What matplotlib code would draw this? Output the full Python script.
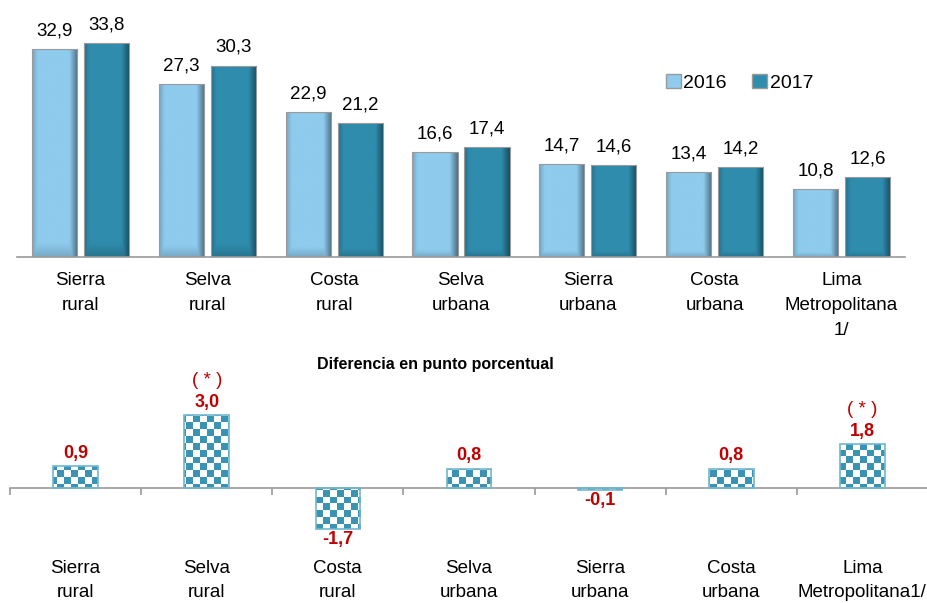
import numpy as np
import matplotlib
matplotlib.use("Agg")
import matplotlib.pyplot as plt
from matplotlib.patches import Patch
from matplotlib.colors import to_rgb

plt.rcParams['font.family'] = ['Liberation Sans Narrow', 'Liberation Sans', 'DejaVu Sans']

# datos
regiones = ["Sierra\nrural", "Selva\nrural", "Costa\nrural", "Selva\nurbana",
            "Sierra\nurbana", "Costa\nurbana", "Lima\nMetropolitana\n1/"]
regiones_dif = ["Sierra\nrural", "Selva\nrural", "Costa\nrural", "Selva\nurbana",
                "Sierra\nurbana", "Costa\nurbana", "Lima\nMetropolitana1/"]
v2016 = [32.9, 27.3, 22.9, 16.6, 14.7, 13.4, 10.8]
v2017 = [33.8, 30.3, 21.2, 17.4, 14.6, 14.2, 12.6]
diferencia = [0.9, 3.0, -1.7, 0.8, -0.1, 0.8, 1.8]
significativo = [False, True, False, False, False, False, True]

c2016 = "#8ecbed"
c2017 = "#2f8cad"
cteal = "#3a93b2"
rojo = "#c00000"
gris = "#9a9a9a"

fig = plt.figure(figsize=(9.28, 6.03), dpi=100)
W, H = 928, 603


def fx(px):
    return px / W


def fy(px):
    return 1 - px / H


def bevel(ax, bar, color):
    # gradiente simple para dar efecto de relieve
    x0, y0 = bar.get_x(), bar.get_y()
    w, h = bar.get_width(), bar.get_height()
    n = 60
    u = np.linspace(0, 1, n)
    fac_x = np.ones(n)
    fac_x[u < 0.12] = 0.82 + 0.18 * u[u < 0.12] / 0.12
    fac_x[u > 0.82] = 1 - 0.45 * (u[u > 0.82] - 0.82) / 0.18
    v = np.linspace(0, 1, n)
    fac_y = np.ones(n)
    fac_y[v < 0.06] = 0.85 + 0.15 * v[v < 0.06] / 0.06
    fac = np.minimum(fac_y[:, None], fac_x[None, :])
    rgb = np.clip(np.array(to_rgb(color))[None, None, :] * fac[:, :, None], 0, 1)
    im = ax.imshow(rgb, extent=(x0, x0 + w, y0, y0 + h), origin="lower",
                   aspect="auto", interpolation="bilinear", zorder=2)
    im.set_clip_path(bar)


# ---- grafico superior ----
ax = fig.add_axes([fx(17), fy(257), fx(905) - fx(17), fy(0) - fy(257)])
x = np.arange(len(regiones))
ax.set_xlim(-0.5, 6.5)
ax.set_ylim(0, 257 / 6.32)
bw = 0.355
b1 = ax.bar(x - 0.205, v2016, bw, color=c2016, edgecolor=gris, linewidth=0.8, zorder=3)
b2 = ax.bar(x + 0.205, v2017, bw, color=c2017, edgecolor=gris, linewidth=0.8, zorder=3)
for bars, col in ((b1, c2016), (b2, c2017)):
    for b in bars:
        b.set_facecolor("none")
        bevel(ax, b, col)
        ax.annotate(f"{b.get_height():.1f}".replace(".", ","),
                    (b.get_x() + b.get_width() / 2, b.get_height()),
                    xytext=(0, 7), textcoords="offset points",
                    ha="center", va="bottom", fontsize=13.5)

for s in ["top", "right", "left"]:
    ax.spines[s].set_visible(False)
ax.spines["bottom"].set_color(gris)
ax.spines["bottom"].set_linewidth(1.2)
ax.set_yticks([])
ax.set_xticks(x)
ax.set_xticklabels(regiones, fontsize=13.5, linespacing=1.6)
ax.tick_params(axis="x", length=0, pad=11)

handles = [Patch(facecolor=c2016, edgecolor=gris), Patch(facecolor=c2017, edgecolor=gris)]
fig.legend(handles, ["2016", "2017"], loc="center left", bbox_to_anchor=(fx(666), fy(83)),
           ncol=2, frameon=False, fontsize=14, handlelength=0.75, handleheight=0.75,
           handletextpad=0.15, columnspacing=1.3, borderpad=0, borderaxespad=0)

# ---- grafico inferior ----
ax2 = fig.add_axes([fx(10), fy(545), fx(928) - fx(10), fy(375) - fy(545)])
ax2.set_xlim(-0.5, 6.5)
ymin, ymax = -57 / 24.3, 113 / 24.3
ax2.set_ylim(ymin, ymax)

# tablero de ajedrez recortado a cada barra
celda = 6.8
ncol = int(round(918 / celda))
nfil = int(round(170 / celda))
tablero = (np.add.outer(np.arange(nfil), np.arange(ncol)) % 2).astype(float)
rgb_tab = np.ones((nfil, ncol, 3))
rgb_tab[tablero == 1] = to_rgb(cteal)

bars2 = ax2.bar(x, diferencia, 0.34, facecolor="none", edgecolor="#6fb6cf",
                linewidth=1.2, zorder=3)
for b, d, sig in zip(bars2, diferencia, significativo):
    im = ax2.imshow(rgb_tab, extent=(-0.5, 6.5, ymin, ymax), origin="upper",
                    aspect="auto", interpolation="nearest", zorder=2)
    im.set_clip_path(b)
    etiqueta = f"{d:.1f}".replace(".", ",")
    cx = b.get_x() + b.get_width() / 2
    if d >= 0:
        ax2.annotate(etiqueta, (cx, d), xytext=(0, 3), textcoords="offset points",
                     ha="center", va="bottom", fontsize=13, fontweight="bold", color=rojo)
        if sig:
            ax2.annotate("( * )", (cx, d), xytext=(0, 19), textcoords="offset points",
                         ha="center", va="bottom", fontsize=13.5, color=rojo)
    else:
        ax2.annotate(etiqueta, (cx, d), xytext=(0, -1), textcoords="offset points",
                     ha="center", va="top", fontsize=13, fontweight="bold", color=rojo)

ax2.set_ylim(ymin, ymax)
ax2.set_xlim(-0.5, 6.5)
for s in ["top", "right", "left"]:
    ax2.spines[s].set_visible(False)
ax2.spines["bottom"].set_position(("data", 0))
ax2.spines["bottom"].set_color(gris)
ax2.spines["bottom"].set_linewidth(1.2)
ax2.set_yticks([])
ax2.set_xticks(x)
ax2.set_xticklabels(regiones_dif, fontsize=13.5, linespacing=1.55)
ax2.set_xticks(np.arange(-0.5, 7, 1), minor=True)
ax2.tick_params(axis="x", which="major", length=0, pad=52)
ax2.tick_params(axis="x", which="minor", length=5, width=1.2, color=gris, direction="out")

fig.text(fx(435), fy(364), "Diferencia en punto porcentual", ha="center", va="center",
         fontsize=11.5, fontweight="bold")

fig.savefig("out.png", dpi=100)
